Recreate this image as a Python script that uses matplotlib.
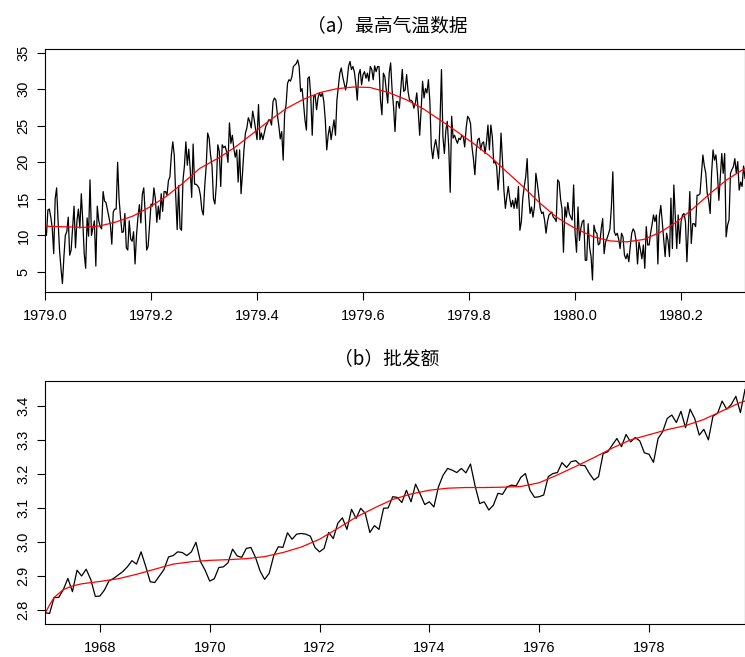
import numpy as np
import matplotlib.pyplot as plt

plt.rcParams['font.family'] = ['Liberation Sans', 'DejaVu Sans']

# (a) daily maximum temperature, starts 1979.0, 365 obs per year
temp_start = 1979.0
temp = [
    11, 10, 13.5, 13.6, 12.5, 11, 7.5, 15, 16.5, 12,
    8, 5.5, 3.4, 7, 10, 10.5, 12.5, 7.3, 8, 11,
    14, 8.3, 12, 13.6, 11, 15.7, 12, 7.5, 5.5, 12.4,
    9.9, 17.6, 10, 11, 12, 5.8, 14, 12, 11.2, 10.9,
    16, 14.7, 14.5, 13.5, 12.5, 11.5, 8.8, 13.2, 13.6, 13.6,
    20, 15, 12.5, 10.4, 10.5, 13, 8.3, 8, 12, 9.5,
    9.2, 10.5, 6.1, 10, 12.5, 14.2, 11.7, 15.6, 16.5, 13,
    8, 8.5, 11.5, 14.3, 14, 16.5, 15, 11.8, 14, 12.2,
    15.7, 13.3, 16, 16, 15.5, 17.5, 18, 21, 22.8, 21,
    15.5, 10.8, 16.8, 11, 10.7, 17.5, 19.5, 22.8, 19.6, 21.8,
    19, 15.2, 22.5, 17, 17, 16.8, 16.5, 15.5, 13.5, 12.8,
    16.8, 19.5, 24, 23.3, 21, 19.5, 15, 14.3, 17, 22.4,
    21.5, 16.7, 22.4, 22.0, 22.2, 21.5, 20.0, 25.4, 22.6, 23.7,
    21.9, 20.7, 21.7, 17.3, 21.7, 15.7, 18.5, 21.7, 24.0, 24.7,
    26.1, 25.6, 24.7, 27.0, 25.9, 24.5, 23.1, 27.9, 23.1, 24.0,
    23.1, 24.0, 24.9, 25.3, 25.8, 25.8, 25.1, 28.3, 28.8, 28.5,
    26.5, 25.0, 23.2, 24.2, 20.3, 26.7, 27.9, 30.8, 31.3, 31.1,
    31.7, 33.1, 33.3, 33.5, 34.0, 33.1, 29.7, 30.1, 28.1, 25.8,
    24.4, 31.5, 31.7, 29.0, 23.7, 29.0, 29.2, 27.2, 28.8, 29.5,
    29.0, 29.5, 28.3, 25.8, 21.7, 23.7, 24.9, 23.1, 24.4, 25.8,
    23.7, 28.5, 30.4, 32.2, 32.9, 31.7, 30.8, 29.9, 31.1, 33.1,
    33.8, 32.7, 33.1, 32.4, 30.8, 28.5, 32.0, 32.7, 30.6, 32.0,
    32.4, 31.5, 32.2, 31.1, 33.1, 32.7, 31.3, 33.2, 32.4, 33.1,
    33.1, 28.5, 26.5, 32.2, 31.7, 29.9, 28.1, 32.2, 33.6, 29.9,
    27.6, 24.2, 28.3, 28.3, 27.4, 30.1, 32.7, 29.7, 29.9, 32.0,
    29.7, 28.5, 28.5, 28.3, 27.4, 28.1, 29.5, 27.0, 23.7, 27.2,
    31.1, 28.8, 30.1, 29.5, 31.3, 28.3, 22.1, 20.5, 22.1, 23.1,
    21.9, 20.5, 25.6, 32.7, 23.5, 21.2, 24.4, 25.6, 22.1, 15.9,
    26.3, 23.3, 23.7, 23.1, 22.6, 23.3, 23.1, 23.7, 23.5, 22.1,
    24.7, 26.3, 26.0, 25.3, 22.1, 20.5, 18.3, 21.7, 23.1, 23.3,
    21.7, 22.6, 22.8, 21.2, 22.8, 25.1, 21.7, 25.1, 23.5, 19.9,
    20.1, 19.4, 16.2, 18.9, 24.0, 20.3, 16.2, 13.7, 15.3, 16.7,
    15.1, 13.9, 14.8, 13.7, 15.1, 13.7, 16.7, 10.7, 11.9, 15.1,
    16.7, 18.0, 20.5, 15.5, 13.0, 13.9, 12.5, 13.9, 18.5, 17.1,
    15.5, 13.7, 13.0, 13.2, 12.1, 10.3, 11.9, 12.8, 13.0, 13.2,
    12.5, 12.3, 11.9, 17.6, 17.3, 15.0, 13.6, 7.7, 13.9, 12.5,
    14.5, 13.0, 12.5, 12.1, 16.9, 10.3, 7.7, 13.9, 9.3, 11.0,
    11.9, 12.1, 6.6, 6.6, 11.6, 8.4, 7.1, 3.9, 11.4, 10.5,
    10.3, 8.7, 8.9, 10.9, 12.3, 7.5, 9.1, 9.6, 10.2, 10.9,
    13.9, 18.7, 10.5, 10.0, 10.3, 9.5, 8.2, 10.3, 9.8, 7.3,
    6.8, 7.5, 6.4, 8.5, 10.3, 10.9, 10.5, 9.3, 6.1, 9.1,
    8.0, 6.8, 8.7, 5.5, 11.2, 8.7, 8.7, 10.3, 11.5, 12.8,
    11.9, 12.8, 6.1, 12.5, 14.1, 11.9, 9.5, 7.1, 10.3, 9.3,
    7.1, 15.1, 8.2, 16.9, 12.5, 8.2, 12.8, 8.9, 11.9, 12.8,
    13.0, 11.9, 6.4, 11.0, 16.0, 8.9, 11.6, 11.6, 11.2, 15.5,
    15.5, 15.7, 18.3, 21.0, 19.5, 18.5, 15.7, 14.8, 13.0, 18.5,
    21.7, 20.3, 21.0, 18.5, 14.8, 18.0, 21.2, 18.5, 21.2, 9.8,
    11.4, 12.1, 18.5, 19.0, 19.4, 20.5, 18.5, 20.1, 16.2, 17.3,
    16.7, 19.5, 17.8,
]

# smooth fit (red)
temp_fit_t = [1979.000, 1979.041, 1979.072, 1979.104, 1979.135, 1979.167,
              1979.198, 1979.230, 1979.261, 1979.292, 1979.330, 1979.361,
              1979.393, 1979.425, 1979.456, 1979.487, 1979.519, 1979.550,
              1979.582, 1979.613, 1979.650, 1979.682, 1979.714, 1979.745,
              1979.777, 1979.808, 1979.840, 1979.871, 1979.902, 1979.934,
              1979.965, 1979.985, 1980.003, 1980.035, 1980.066, 1980.098,
              1980.129, 1980.160, 1980.192, 1980.223, 1980.255, 1980.286,
              1980.321]
temp_fit = [11.26, 11.17, 11.1, 11.3, 11.86, 12.68,
            13.9, 15.4, 17.2, 19.17, 20.7, 22.2,
            24.0, 25.8, 27.4, 28.6, 29.55, 30.06,
            30.3, 30.24, 29.5, 28.55, 27.3, 25.8,
            24.2, 22.6, 20.8, 18.7, 16.66, 14.4,
            12.5, 11.6, 10.85, 9.8, 9.25, 9.12,
            9.44, 10.4, 11.86, 13.7, 15.75, 17.6,
            19.2]

# (b) monthly wholesale, starts 1967.0
sales_start = 1967.0
sales = [
    2.792, 2.79, 2.837, 2.837, 2.86, 2.893, 2.854, 2.917, 2.90, 2.92,
    2.89, 2.84, 2.841, 2.859, 2.886, 2.893, 2.903, 2.913, 2.927, 2.945,
    2.935, 2.971, 2.929, 2.883, 2.881, 2.90, 2.919, 2.956, 2.96, 2.971,
    2.969, 2.96, 2.971, 2.999, 2.942, 2.917, 2.885, 2.892, 2.925, 2.927,
    2.939, 2.979, 2.959, 2.955, 2.981, 2.984, 2.955, 2.915, 2.89, 2.908,
    2.96, 2.986, 2.984, 3.027, 3.008, 3.023, 3.025, 3.023, 3.017, 2.984,
    2.971, 2.981, 3.028, 3.01, 3.055, 3.071, 3.037, 3.096, 3.069, 3.099,
    3.084, 3.028, 3.048, 3.037, 3.099, 3.10, 3.133, 3.131, 3.116, 3.152,
    3.118, 3.17, 3.141, 3.11, 3.118, 3.103, 3.162, 3.196, 3.216, 3.211,
    3.204, 3.216, 3.203, 3.229, 3.165, 3.113, 3.118, 3.094, 3.108, 3.143,
    3.14, 3.162, 3.167, 3.165, 3.19, 3.201, 3.152, 3.131, 3.133, 3.138,
    3.192, 3.201, 3.204, 3.233, 3.219, 3.236, 3.239, 3.226, 3.224, 3.201,
    3.182, 3.192, 3.26, 3.265, 3.285, 3.304, 3.28, 3.316, 3.294, 3.307,
    3.297, 3.262, 3.258, 3.234, 3.304, 3.324, 3.363, 3.373, 3.351, 3.384,
    3.336, 3.39, 3.363, 3.314, 3.331, 3.30, 3.37, 3.378, 3.414, 3.39,
    3.404, 3.428, 3.38, 3.448,
]

# smooth fit (red), month index from 1967.0
sales_fit_m = [0, 1, 2, 4, 6, 8, 12, 16, 20, 24, 28, 32, 36, 40, 44, 48, 52,
               56, 60, 64, 68, 72, 76, 80, 84, 88, 92, 96, 100, 104, 108,
               112, 116, 120, 124, 128, 132, 136, 140, 144, 148, 152, 153]
sales_fit = [2.79, 2.815, 2.837, 2.86, 2.871, 2.877, 2.884, 2.892, 2.905,
             2.92, 2.935, 2.942, 2.946, 2.948, 2.951, 2.957, 2.969, 2.985,
             3.008, 3.04, 3.073, 3.1, 3.125, 3.141, 3.152, 3.158, 3.16,
             3.16, 3.161, 3.163, 3.174, 3.197, 3.222, 3.248, 3.276, 3.3,
             3.315, 3.33, 3.342, 3.36, 3.385, 3.41, 3.414]

t1 = temp_start + np.arange(len(temp)) / 365
t2 = sales_start + np.arange(len(sales)) / 12
t2_fit = sales_start + np.array(sales_fit_m) / 12

W, H = 745, 657
fig = plt.figure(figsize=(W / 100, H / 100), dpi=100)

ax1 = fig.add_axes([45 / W, 1 - 292 / H, 700 / W, (292 - 49) / H])
ax2 = fig.add_axes([45 / W, 1 - 624 / H, 700 / W, (624 - 381) / H])

# top panel
ax1.plot(t1, temp, color='black', lw=0.9)
ax1.plot(temp_fit_t, temp_fit, color='red', lw=0.9)
ax1.set_xlim(t1[0], t1[-1])
ax1.set_ylim(2.26, 35.5)
ax1.set_xticks([1979.0, 1979.2, 1979.4, 1979.6, 1979.8, 1980.0, 1980.2])
ax1.set_xticklabels(['1979.0', '1979.2', '1979.4', '1979.6', '1979.8',
                     '1980.0', '1980.2'])
ax1.set_yticks([5, 10, 15, 20, 25, 30, 35])
ax1.set_yticklabels(['5', '10', '15', '20', '25', '30', '35'],
                    rotation=90, va='center')

# bottom panel
ax2.plot(t2, sales, color='black', lw=0.9)
ax2.plot(t2_fit, sales_fit, color='red', lw=0.9)
ax2.set_xlim(t2[0], t2[-1])
ax2.set_ylim(2.759, 3.473)
ax2.set_xticks([1968, 1970, 1972, 1974, 1976, 1978])
ax2.set_xticklabels(['1968', '1970', '1972', '1974', '1976', '1978'])
ax2.set_yticks([2.8, 2.9, 3.0, 3.1, 3.2, 3.3, 3.4])
ax2.set_yticklabels(['2.8', '2.9', '3.0', '3.1', '3.2', '3.3', '3.4'],
                    rotation=90, va='center')

for ax in (ax1, ax2):
    for s in ax.spines.values():
        s.set_linewidth(0.8)
    ax.tick_params(axis='both', direction='out', length=5.5, width=0.8,
                   labelsize=10.5)
    ax.tick_params(axis='x', pad=7)
    ax.tick_params(axis='y', pad=5)

cjk = ['Noto Sans CJK SC', 'DejaVu Sans']
fig.text(387 / W, 1 - 26 / H, '（a）最高气温数据', ha='center', va='center',
         fontsize=13.5, family=cjk)
fig.text(387 / W, 1 - 359 / H, '（b）批发额', ha='center', va='center',
         fontsize=13.5, family=cjk)

fig.savefig('out.png', dpi=100)
